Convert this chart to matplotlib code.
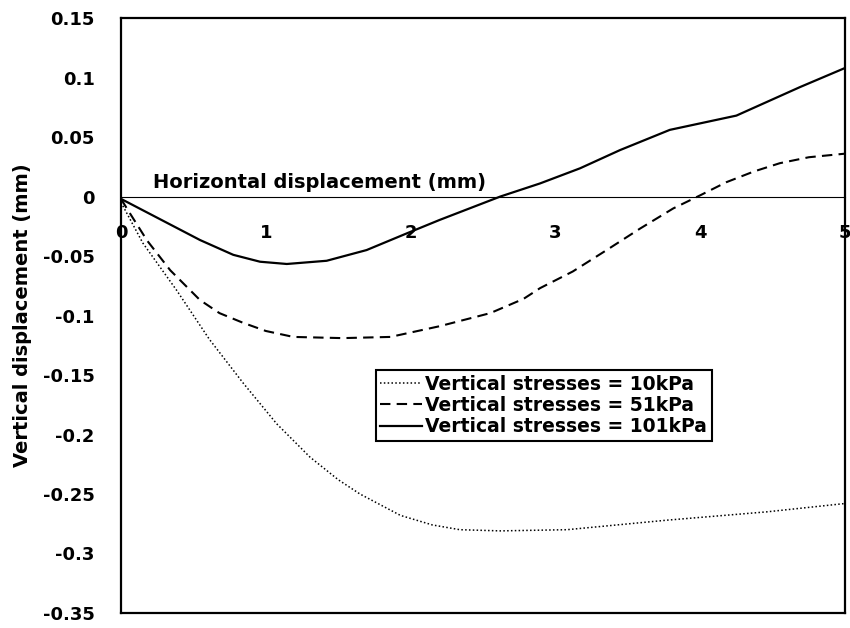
import matplotlib.pyplot as plt
import numpy as np

plt.rcParams['font.family'] = ['DejaVu Sans']
plt.rcParams['font.weight'] = 'bold'

# 10 kPa (dotted)
x10 = [0, 0.15, 0.385, 0.61, 0.845, 1.075, 1.305, 1.5, 1.65, 1.93, 2.15, 2.34, 2.62, 3.08, 3.77, 4.46, 5.0]
y10 = [-0.005, -0.039, -0.079, -0.12, -0.157, -0.191, -0.219, -0.238, -0.250, -0.268, -0.276, -0.280, -0.281, -0.280, -0.272, -0.265, -0.258]

# 51 kPa (dashed)
x51 = [0, 0.04, 0.18, 0.34, 0.545, 0.68, 0.84, 1.0, 1.19, 1.53, 1.86, 2.2, 2.55, 2.78, 2.894, 3.12, 3.354, 3.584, 3.814, 4.0, 4.18, 4.37, 4.55, 4.75, 5.0]
y51 = [-0.002, -0.01, -0.037, -0.062, -0.087, -0.098, -0.106, -0.113, -0.118, -0.119, -0.118, -0.109, -0.098, -0.086, -0.077, -0.063, -0.045, -0.027, -0.010, 0.001, 0.012, 0.021, 0.028, 0.033, 0.036]

# 101 kPa (solid)
x101 = [0, 0.546, 0.775, 0.96, 1.145, 1.42, 1.696, 1.973, 2.2, 2.62, 2.894, 3.17, 3.446, 3.79, 4.25, 4.69, 5.0]
y101 = [-0.002, -0.0366, -0.049, -0.0548, -0.0567, -0.054, -0.045, -0.031, -0.0197, 0.0, 0.011, 0.0237, 0.039, 0.056, 0.068, 0.092, 0.108]

labels = ['Vertical stresses = 10kPa', 'Vertical stresses = 51kPa', 'Vertical stresses = 101kPa']
xticks = [0, 1, 2, 3, 4, 5]
yticks = [-0.35, -0.3, -0.25, -0.2, -0.15, -0.1, -0.05, 0, 0.05, 0.1, 0.15]
yticklabels = ['-0.35', '-0.3', '-0.25', '-0.2', '-0.15', '-0.1', '-0.05', '0', '0.05', '0.1', '0.15']

fig = plt.figure(figsize=(8.5, 6.28), dpi=100)
ax = fig.add_axes([0.1424, 0.0239, 0.8517, 0.9474])

ax.plot(x10, y10, color='k', lw=1.1, linestyle=(0, (1, 1.5)), label=labels[0])
ax.plot(x51, y51, color='k', lw=1.5, linestyle=(0, (5, 3)), label=labels[1])
ax.plot(x101, y101, color='k', lw=1.6, linestyle='-', label=labels[2])

ax.set_xlim(0, 5)
ax.set_ylim(-0.35, 0.15)
ax.set_yticks(yticks)
ax.set_yticklabels(yticklabels)
ax.tick_params(axis='y', length=0, pad=19, labelsize=13)
ax.set_xticks([])
for s in ax.spines.values():
    s.set_linewidth(1.6)

# x axis drawn on the zero line
sec = ax.secondary_xaxis(0.7)
sec.xaxis.set_ticks_position('bottom')
sec.set_xticks(xticks)
sec.tick_params(axis='x', length=0, pad=20, labelsize=13, labelbottom=True, labeltop=False)
for s in sec.spines.values():
    s.set_linewidth(0.8)
for lab in sec.get_xticklabels():
    lab.set_fontweight('bold')
ax.text(0.22, 0.004, 'Horizontal displacement (mm)', fontsize=14, fontweight='bold',
        ha='left', va='bottom')

ax.set_ylabel('Vertical displacement (mm)', fontsize=14, fontweight='bold', labelpad=8)

leg = ax.legend(loc='center', bbox_to_anchor=(0.584, 0.349), fontsize=13.5, frameon=True,
                fancybox=False, edgecolor='k', framealpha=1, handlelength=2.2,
                handletextpad=0.2, borderpad=0.25, labelspacing=0.12, borderaxespad=0)
leg.get_frame().set_linewidth(1.5)
for t in leg.get_texts():
    t.set_fontweight('bold')

plt.savefig('out.png', dpi=100)
